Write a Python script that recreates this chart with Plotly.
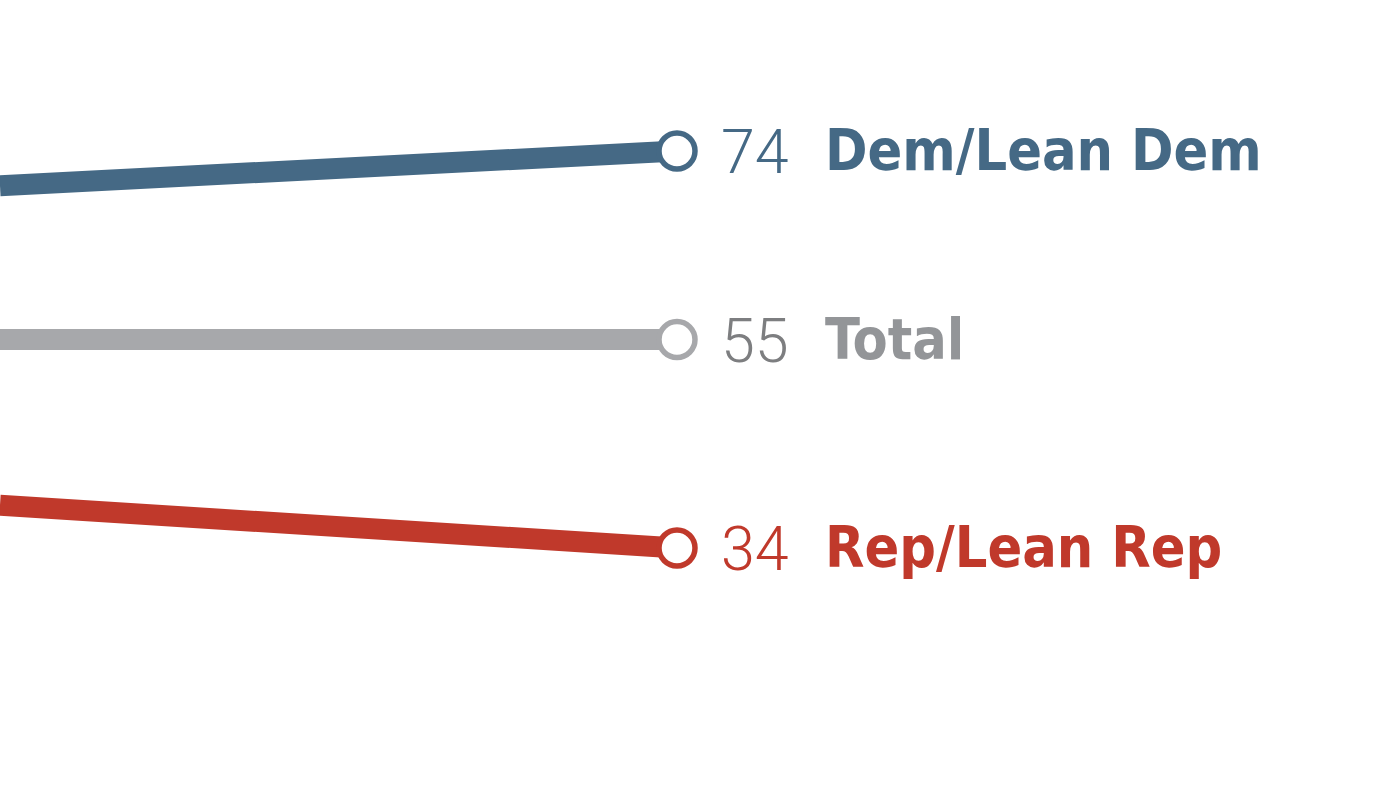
import plotly.graph_objects as go

# Data
series_names = ["Dem/Lean Dem", "Total", "Rep/Lean Rep"]
x_points = [0, 1]
dem_values = [70.5, 74]
total_values = [55, 55]
rep_values = [38.3, 34]

line_colors = ["#456985", "#a7a8ab", "#c0392b"]
number_colors = ["#456985", "#7d7e80", "#c0392b"]
label_colors = ["#456985", "#939598", "#c0392b"]

fig = go.Figure()
all_values = [dem_values, total_values, rep_values]
for name, vals, lc in zip(series_names, all_values, line_colors):
    fig.add_trace(go.Scatter(
        x=x_points, y=vals, mode="lines", line=dict(color=lc, width=21),
        hoverinfo="skip", showlegend=False, cliponaxis=False))
    fig.add_trace(go.Scatter(
        x=[x_points[-1]], y=[vals[-1]], mode="markers",
        marker=dict(size=36, color="white", line=dict(color=lc, width=5.5)),
        hoverinfo="skip", showlegend=False, cliponaxis=False))

for name, vals, nc, labc in zip(series_names, all_values, number_colors, label_colors):
    fig.add_annotation(x=x_points[-1], y=vals[-1], xref="x", yref="y",
                       text=str(round(vals[-1])), showarrow=False,
                       xanchor="left", yanchor="middle", xshift=42, yshift=-1,
                       font=dict(family="Roboto", size=61, color=nc, weight=300))
    fig.add_annotation(x=x_points[-1], y=vals[-1], xref="x", yref="y",
                       text="<b>%s</b>" % name, showarrow=False,
                       xanchor="left", yanchor="middle", xshift=146, yshift=1,
                       font=dict(family="DejaVu Sans Condensed, Liberation Sans", size=57, color=labc))

fig.update_layout(
    width=1400, height=789, margin=dict(l=0, r=0, t=0, b=0),
    paper_bgcolor="white", plot_bgcolor="white",
    xaxis=dict(range=[0, 1400 / 677], visible=False, fixedrange=True),
    yaxis=dict(range=[9.72, 89.21], visible=False, fixedrange=True),
)
fig.write_html("out.html", post_script="document.body.style.margin='0';",
               config={"displayModeBar": False})
